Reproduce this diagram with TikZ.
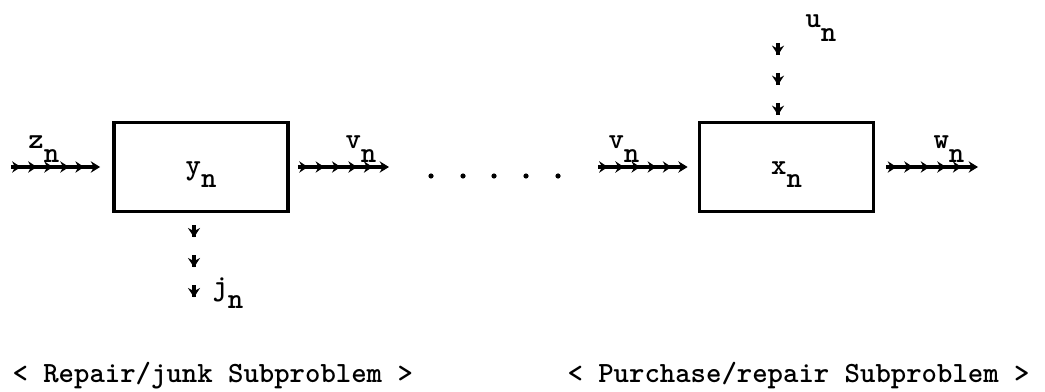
\documentclass[tikz,border=0pt]{standalone}
\usetikzlibrary{arrows.meta,decorations.markings}

\tikzset{every picture/.style={line width=0.75pt}}
\newcommand{\low}[1]{\raisebox{-0.45em}{#1}}
\tikzset{
  tw/.style={font=\fontsize{22}{26}\selectfont\ttfamily\bfseries, inner sep=0pt},
  stage/.style={draw, line width=2.8pt, minimum width=130.5pt, minimum height=66.75pt, inner sep=0pt, text height=21pt, text depth=10pt, tw},
  feed/.style={line width=2.3pt, -{Stealth[length=7pt,width=8.5pt]}, postaction={decorate},
    decoration={markings,
      mark=at position 0.11 with {\arrow{Stealth[length=6.5pt,width=8.5pt]}},
      mark=at position 0.29 with {\arrow{Stealth[length=6.5pt,width=8.5pt]}},
      mark=at position 0.47 with {\arrow{Stealth[length=6.5pt,width=8.5pt]}},
      mark=at position 0.65 with {\arrow{Stealth[length=6.5pt,width=8.5pt]}},
      mark=at position 0.82 with {\arrow{Stealth[length=6.5pt,width=8.5pt]}}}},
  drop/.style={line width=2.3pt, dash pattern=on 0pt off 9pt on 9pt off 13.5pt on 9pt off 13.5pt on 9pt off 40pt, postaction={decorate},
    decoration={markings,
      mark=at position 18pt with {\arrow{Stealth[length=7pt,width=9pt]}},
      mark=at position 40.5pt with {\arrow{Stealth[length=7pt,width=9pt]}},
      mark=at position 63pt with {\arrow{Stealth[length=7pt,width=9pt]}}}}
}

\begin{document}
\begin{tikzpicture}[x=0.75pt,y=0.75pt,yscale=-1,xscale=1]
\useasboundingbox (0,0) rectangle (1045,392);

%Boxes
\node [stage] (ybox) at (201,167) {y\low{n}};
\node [stage] (xbox) at (786.5,167) {x\low{n}};

%free ends
\coordinate (zin) at (11,167);
\coordinate (vout) at (389,167);
\coordinate (vin) at (598,167);
\coordinate (wout) at (978,167);
\coordinate (jend) at (194,300);
\coordinate (utop) at (778,31);

%Horizontal flows
\draw [feed] (zin) -- ([xshift=-9pt]ybox.west);
\draw [feed] ([xshift=6pt]ybox.east) -- (vout);
\draw [feed] (vin) -- ([xshift=-7.5pt]xbox.west);
\draw [feed] ([xshift=8.25pt]xbox.east) -- (wout);

%Vertical flows
\draw [drop] (jend |- ybox.south) -- (jend);
\draw [drop] (utop) -- (utop |- xbox.north);

%Dots
\foreach \x in {431,463,494,526,558}
  \fill (\x,176) circle [radius=2.6];

% Text Node
\node [tw, anchor=base west] (zlab) at (28,149) {z\low{n}};
% Text Node
\node [tw, anchor=base west] (vlab1) at (345,149) {v\low{n}};
% Text Node
\node [tw, anchor=base west] (vlab2) at (608,149) {v\low{n}};
% Text Node
\node [tw, anchor=base west] (wlab) at (933,149) {w\low{n}};
% Text Node
\node [tw, anchor=base west] (ulab) at (805,28) {u\low{n}};
% Text Node
\node [tw, anchor=base west] (jlab) at (212,295) {j\low{n}};

% Text Node
\node [tw, anchor=base west] (left) at (12,382) {< Repair/junk Subproblem >};
% Text Node
\node [tw, anchor=base west] (right) at (567,382) {< Purchase/repair Subproblem >};

\end{tikzpicture}
\end{document}
